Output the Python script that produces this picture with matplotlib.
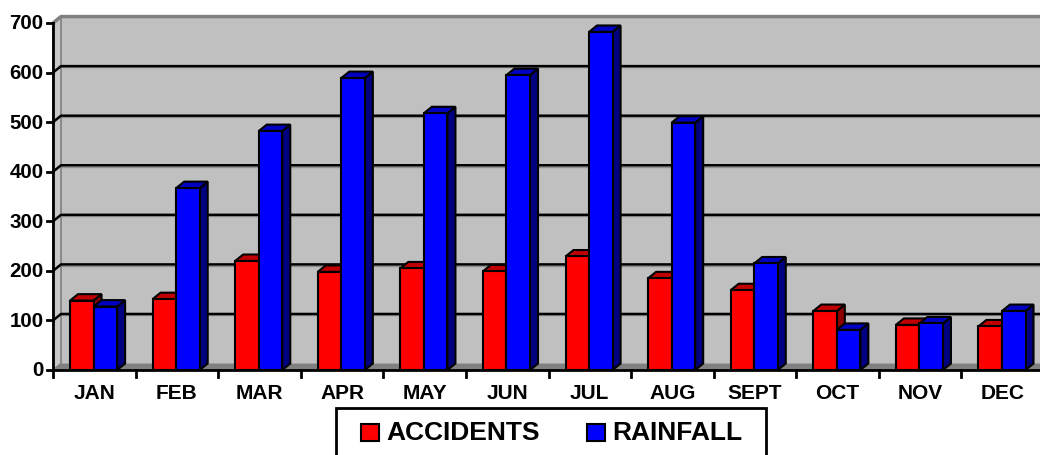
import matplotlib
matplotlib.use("Agg")
import matplotlib.pyplot as plt
from matplotlib.patches import Polygon, Rectangle

months = ["JAN", "FEB", "MAR", "APR", "MAY", "JUN", "JUL", "AUG", "SEPT", "OCT", "NOV", "DEC"]
accidents = [140, 143, 220, 198, 205, 199, 229, 185, 161, 119, 91, 88]
rainfall = [128, 367, 482, 589, 518, 595, 682, 499, 215, 81, 94, 119]
yticks = [0, 100, 200, 300, 400, 500, 600, 700]

plt.rcParams['font.family'] = ['Liberation Sans', 'DejaVu Sans']
plt.rcParams['font.weight'] = 'bold'

fig = plt.figure(figsize=(10.4, 4.55), dpi=100)
ax = fig.add_axes([53/1040, 85/455, 991/1040, 347/455])
ax.set_xlim(0, 12)
ax.set_ylim(0, 700)
ax.axis('off')

# fake 3d depth offset (data units)
dx, dy = 0.097, 13
n = len(months)
ytop = yticks[-1]

def poly(pts, fc, ec='none', lw=0, z=1):
    ax.add_patch(Polygon(pts, closed=True, facecolor=fc, edgecolor=ec,
                         linewidth=lw, zorder=z, clip_on=False, joinstyle='miter'))

# walls and floor
poly([(dx, dy), (n+dx, dy), (n+dx, ytop+dy), (dx, ytop+dy)], '#c0c0c0', z=0)
poly([(0, 0), (dx, dy), (dx, ytop+dy), (0, ytop)], '#c8c8c8', '#808080', 1.2, z=0.5)
poly([(0, 0), (dx, dy), (n+dx, dy), (n, 0)], '#808080', z=0.5)
ax.plot([0, dx, n+dx], [ytop, ytop+dy, ytop+dy], color='#808080', lw=2.5,
        clip_on=False, zorder=0.6, solid_capstyle='butt')

# gridlines on back and left wall (with a faint grey shadow)
for v in yticks[1:-1]:
    ax.plot([dx, n+dx], [v+dy-2.5, v+dy-2.5], color='#909090', lw=1,
            clip_on=False, zorder=0.65)
    ax.plot([0, dx, n+dx], [v, v+dy, v+dy], color='black', lw=1.8,
            clip_on=False, zorder=0.7)

# bars
a, w = 0.206, 0.285
series = [(accidents, '#ff0000', '#c00000', '#900000'),
          (rainfall, '#0000ff', '#0000c0', '#000080')]
for i in range(n):
    for k, (vals, front, top, side) in enumerate(series):
        x0 = i + a + k*w
        x1 = x0 + w
        h = vals[i]
        z = 2 + k
        poly([(x1, 0), (x1+dx, dy), (x1+dx, h+dy), (x1, h)], side, 'black', 1.5, z)
        poly([(x0, h), (x0+dx, h+dy), (x1+dx, h+dy), (x1, h)], top, 'black', 1.5, z)
        poly([(x0, 0), (x1, 0), (x1, h), (x0, h)], front, 'black', 1.5, z)

# axes lines and ticks
tx = 6 / 82.6
ty = 7 / 0.4957
ax.plot([0, 0], [0, ytop], color='black', lw=2, clip_on=False, zorder=5)
ax.plot([0, n], [0, 0], color='black', lw=2, clip_on=False, zorder=5)
for v in yticks:
    ax.plot([-tx, 0], [v, v], color='black', lw=2, clip_on=False, zorder=5)
    ax.text(-0.115, v - 2, str(v), ha='right', va='center', fontsize=14.8,
            fontweight='bold')
for i in range(n + 1):
    ax.plot([i, i], [0, -ty], color='black', lw=2, clip_on=False, zorder=5)
for i, m in enumerate(months):
    ax.text(i + 0.5, -48, m, ha='center', va='center', fontsize=15,
            fontweight='bold')

# legend (drawn by hand, box runs off the bottom edge)
W, H = 1040, 455
fig.patches.append(Rectangle((336/W, -0.05), 430/W, (455-408)/H + 0.05,
                             transform=fig.transFigure, facecolor='white',
                             edgecolor='black', linewidth=2))
for (lx, tx0, label, col) in [(361, 386, "ACCIDENTS", '#ff0000'),
                              (587, 612, "RAINFALL", '#0000ff')]:
    fig.patches.append(Rectangle((lx/W, (455-441)/H), 18/W, 17/H,
                                 transform=fig.transFigure, facecolor=col,
                                 edgecolor='black', linewidth=1.5))
    fig.text(tx0/W, (455-432.5)/H, label, ha='left', va='center',
             fontsize=19, fontweight='bold')

fig.savefig("out.png", dpi=100)
